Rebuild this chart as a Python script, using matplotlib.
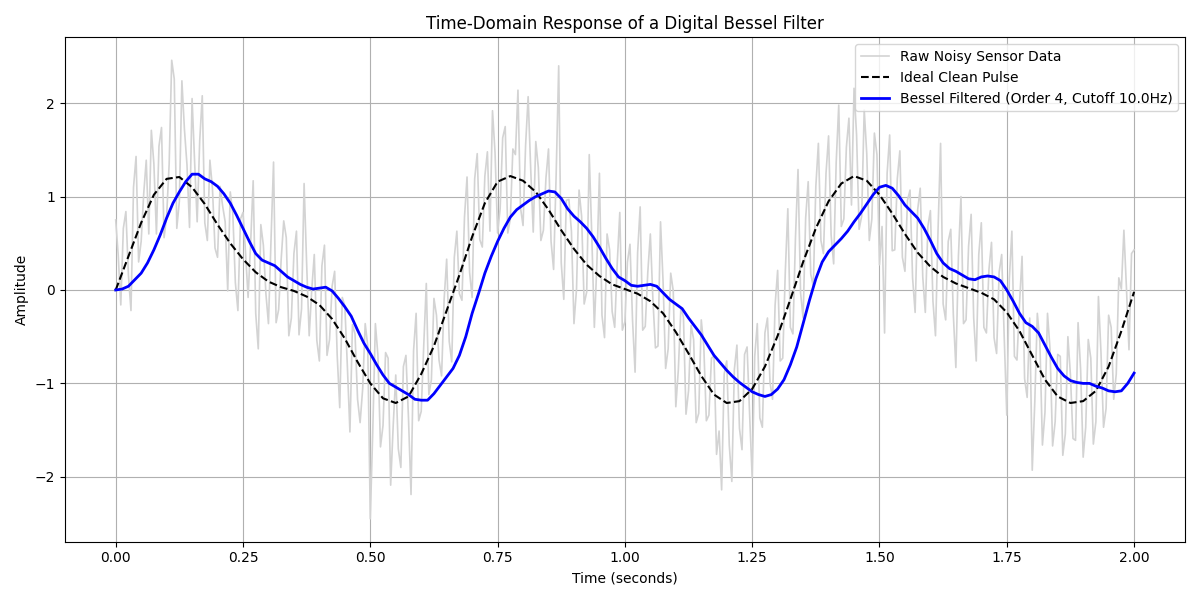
import matplotlib

matplotlib.use("Agg")

import matplotlib.pyplot as plt
import numpy as np


# Ideal pulse every 0.025 s
t_clean = np.linspace(0.0, 2.0, 81)
clean_pulse = [
    0.00, 0.36, 0.72, 1.02, 1.19, 1.21, 1.10, 0.92, 0.70, 0.50,
    0.33, 0.19, 0.09, 0.03, -0.01, -0.07, -0.16, -0.31, -0.52, -0.77,
    -1.00, -1.16, -1.21, -1.14, -0.90, -0.60, -0.22, 0.16, 0.57, 0.93,
    1.16, 1.22, 1.17, 1.05, 0.86, 0.64, 0.44, 0.27, 0.15, 0.06,
    0.01, -0.04, -0.12, -0.25, -0.45, -0.68, -0.92, -1.12, -1.21, -1.19,
    -1.06, -0.82, -0.49, -0.10, 0.30, 0.66, 0.95, 1.14, 1.22, 1.17,
    1.02, 0.82, 0.60, 0.40, 0.25, 0.14, 0.07, 0.02, -0.03, -0.10,
    -0.24, -0.44, -0.70, -0.96, -1.14, -1.21, -1.19, -1.08, -0.82, -0.44,
    -0.02,
]

# Bessel output every 0.0125 s
t_filtered = np.linspace(0.0, 2.0, 161)
bessel_filtered = [
    0.00, 0.01, 0.04, 0.11, 0.18, 0.29, 0.43, 0.59, 0.77, 0.93,
    1.05, 1.16, 1.24, 1.24, 1.19, 1.16, 1.11, 1.03, 0.93, 0.80,
    0.66, 0.52, 0.39, 0.32, 0.29, 0.26, 0.20, 0.14, 0.10, 0.06,
    0.03, 0.01, 0.02, 0.03, -0.01, -0.09, -0.18, -0.28, -0.43, -0.57,
    -0.68, -0.80, -0.91, -1.00, -1.04, -1.08, -1.12, -1.17, -1.18, -1.18,
    -1.11, -1.02, -0.93, -0.84, -0.70, -0.50, -0.25, -0.04, 0.18, 0.36,
    0.52, 0.66, 0.78, 0.86, 0.91, 0.96, 1.00, 1.03, 1.06, 1.05,
    0.98, 0.87, 0.79, 0.73, 0.66, 0.57, 0.46, 0.34, 0.23, 0.14,
    0.10, 0.05, 0.04, 0.05, 0.06, 0.04, -0.03, -0.10, -0.15, -0.20,
    -0.30, -0.39, -0.48, -0.59, -0.70, -0.78, -0.86, -0.93, -0.99, -1.04,
    -1.09, -1.12, -1.14, -1.12, -1.06, -0.96, -0.80, -0.61, -0.36, -0.11,
    0.12, 0.30, 0.41, 0.48, 0.55, 0.63, 0.73, 0.82, 0.92, 1.02,
    1.10, 1.12, 1.09, 1.01, 0.91, 0.84, 0.77, 0.66, 0.53, 0.39,
    0.29, 0.23, 0.20, 0.16, 0.12, 0.11, 0.14, 0.15, 0.14, 0.10,
    0.00, -0.12, -0.25, -0.35, -0.39, -0.46, -0.59, -0.72, -0.84, -0.92,
    -0.97, -0.99, -1.00, -1.00, -1.03, -1.05, -1.08, -1.09, -1.08, -1.00,
    -0.89,
]

# Raw sensor trace every 0.005 s
t_raw = np.linspace(0.0, 2.0, 401)
raw_noisy = [
    0.75, 0.37, -0.16, 0.66, 0.84, 0.16, -0.22, 1.10, 1.43, 0.30,
    0.52, 1.03, 1.39, 0.60, 1.71, 1.35, 0.60, 1.54, 1.74, 0.56,
    0.79, 1.35, 2.46, 2.26, 0.66, 0.95, 2.24, 1.72, 1.34, 0.67,
    2.05, 1.37, 0.73, 1.60, 2.08, 0.72, 0.53, 1.39, 1.09, 0.45,
    0.35, 1.11, 0.90, 0.73, -0.01, 1.05, 0.82, 0.08, -0.22, 0.76,
    0.83, 0.40, -0.08, 0.50, 1.17, -0.25, -0.63, 0.70, 0.48, -0.04,
    -0.36, 0.53, 1.37, -0.35, -0.21, 0.33, 0.74, 0.56, -0.49, -0.30,
    0.39, 0.63, -0.48, -0.20, 1.14, 0.28, -0.49, 0.00, 0.38, -0.54,
    -0.76, 0.26, 0.48, -0.70, -0.53, 0.04, 0.20, -0.70, -1.26, -0.08,
    -0.17, -0.82, -1.52, -0.37, -0.47, -1.17, -1.42, -1.06, -0.36, -0.60,
    -2.45, -1.48, -0.36, -0.70, -1.68, -1.45, -0.67, -0.73, -2.09, -1.45,
    -0.91, -1.70, -1.90, -0.82, -0.70, -1.37, -2.19, -0.65, -0.25, -1.40,
    -1.30, -0.59, 0.07, -1.12, -0.96, -0.09, -0.27, -0.75, -0.92, -0.10,
    0.33, -0.55, -0.77, 0.35, 0.63, -0.04, -0.11, 0.78, 1.21, 0.19,
    -0.08, 1.19, 1.46, 0.54, 0.46, 1.22, 1.48, 0.63, 1.92, 1.47,
    0.61, 0.87, 1.63, 1.75, 0.61, 0.76, 1.51, 1.45, 2.14, 0.88,
    0.69, 1.55, 2.07, 1.30, 0.62, 1.59, 1.31, 0.53, 0.64, 1.20,
    1.51, 0.52, 0.22, 1.23, 2.40, 0.29, -0.10, 0.96, 0.97, 0.63,
    -0.36, 0.01, 1.07, 0.79, -0.15, -0.02, 1.45, 0.58, -0.40, 0.28,
    1.25, -0.27, -0.51, 0.60, 0.43, -0.23, -0.40, 0.29, 0.83, -0.43,
    -0.34, 0.30, 0.49, -0.32, -0.88, 0.40, 0.89, -0.43, -0.39, 0.19,
    0.60, -0.10, -0.62, -0.60, 0.73, 0.09, -0.84, -0.63, 0.18, -0.01,
    -1.25, -0.85, -0.19, -0.29, -1.33, -1.08, -0.38, -0.53, -1.42, -1.32,
    -0.32, -0.61, -1.40, -1.34, -0.73, -0.71, -1.76, -1.51, -2.14, -0.90,
    -0.76, -1.66, -2.05, -0.85, -0.59, -1.48, -1.71, -0.69, -0.61, -1.34,
    -2.01, -0.71, -0.36, -1.37, -1.47, -0.46, -0.30, -0.99, -1.17, -0.16,
    0.21, -0.76, -0.73, 0.19, 0.87, -0.40, -0.47, 0.56, 1.29, -0.03,
    -0.30, 0.77, 1.16, 0.17, 0.04, 1.11, 1.57, 0.53, 0.39, 1.25,
    1.65, 0.59, 0.28, 1.37, 1.98, 0.68, 0.76, 1.53, 1.84, 0.91,
    2.16, 1.66, 0.65, 0.79, 1.93, 1.46, 0.53, 0.76, 1.68, 1.45,
    0.27, 0.68, -0.46, 1.25, 1.66, 0.42, 0.43, 1.19, 1.49, 0.35,
    0.20, 0.96, 1.07, 0.13, -0.24, 0.86, 1.09, 0.14, -0.24, 0.68,
    0.85, -0.12, -0.49, 0.64, 1.57, -0.15, -0.32, 0.52, 0.65, -0.26,
    -0.83, 0.36, 1.00, -0.36, -0.32, 0.47, 0.81, -0.30, -0.76, 0.38,
    0.72, -0.40, -0.46, 0.22, 0.51, -0.51, -0.68, 0.19, 0.38, -0.51,
    -1.34, 0.12, 0.63, -0.71, -0.75, -0.15, 0.36, -0.95, -1.15, -0.30,
    -1.93, -1.20, -0.25, -0.56, -1.66, -1.31, -0.25, -0.64, -1.67, -1.41,
    -0.69, -0.71, -1.77, -1.54, -0.50, -0.91, -1.59, -1.61, -0.35, -0.85,
    -1.79, -1.47, -0.53, -0.73, -1.65, -1.41, -0.07, -0.67, -1.47, -1.27,
    -0.27, -0.40, -1.17, -0.90, 0.13, 0.01, 0.64, 0.02, -0.64, 0.39,
    0.43,
]

ORDER = 4
CUTOFF_HZ = 10.0

fig, ax = plt.subplots(figsize=(12, 6), dpi=100)
ax.plot(t_raw, raw_noisy, color="lightgray", linewidth=1.2, label="Raw Noisy Sensor Data")
ax.plot(t_clean, clean_pulse, "k--", linewidth=1.5, label="Ideal Clean Pulse")
ax.plot(t_filtered, bessel_filtered, color="blue", linewidth=2.0,
        label=f"Bessel Filtered (Order {ORDER}, Cutoff {CUTOFF_HZ}Hz)")

ax.set_title("Time-Domain Response of a Digital Bessel Filter")
ax.set_xlabel("Time (seconds)")
ax.set_ylabel("Amplitude")
ax.grid(True)
ax.legend(loc="upper right")

fig.tight_layout()
fig.savefig("out.png", dpi=100)
